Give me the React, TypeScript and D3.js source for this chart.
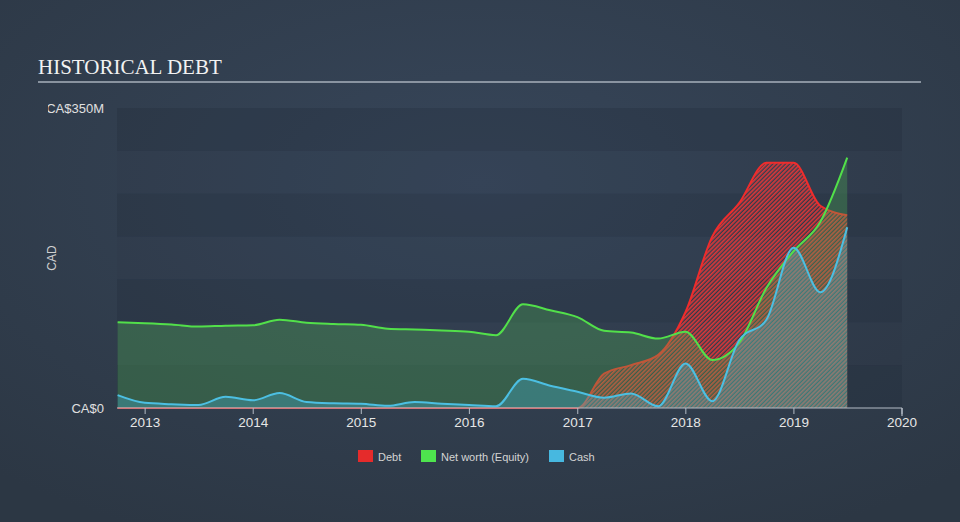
import React from "react";
import * as d3 from "d3";

// quarterly balance sheet dates, values in CA$ millions
const dates = [
  "2012-09-30", "2012-12-31", "2013-03-31", "2013-06-30", "2013-09-30", "2013-12-31",
  "2014-03-31", "2014-06-30", "2014-09-30", "2014-12-31", "2015-03-31", "2015-06-30",
  "2015-09-30", "2015-12-31", "2016-03-31", "2016-06-30", "2016-09-30", "2016-12-31",
  "2017-03-31", "2017-06-30", "2017-09-30", "2017-12-31", "2018-03-31", "2018-06-30",
  "2018-09-30", "2018-12-31", "2019-03-31", "2019-06-30",
];
const debt = [0, 0, 0, 0, 0, 0, 0, 0, 0, 0, 0, 0, 0, 0, 0, 0, 0, 0, 40, 50, 62, 112, 200, 239, 286, 286, 236, 225];
const netWorth = [100, 99, 97.5, 95, 96, 96.5, 103, 99.5, 98, 97, 92.5, 91.5, 90.5, 89, 85, 121, 114, 106, 90, 88, 81, 89, 56, 76, 140, 183, 217, 292];
const cash = [15, 6, 4.5, 3.5, 13, 9, 17.5, 7, 5.5, 5, 2.5, 7, 5, 3.5, 2, 34, 26, 19, 12, 17, 2, 52, 8, 79, 103, 187, 135, 211];

const yTicks = [0, 350];
const yTickLabels = ["CA$0", "CA$350M"];
const bandStep = 50;
const legendItems = [
  { label: "Debt", color: "#e52b2b", x: 358 },
  { label: "Net worth (Equity)", color: "#4ee44e", x: 421 },
  { label: "Cash", color: "#47b8e0", x: 549 },
];

const width = 960;
const height = 522;
const margin = { top: 108, right: 58, bottom: 114, left: 117 };

export default function App() {
  const parse = d3.timeParse("%Y-%m-%d");
  const points = dates.map((d, i) => ({
    date: parse(d) as Date,
    debt: debt[i],
    netWorth: netWorth[i],
    cash: cash[i],
  }));

  const xScale = d3
    .scaleTime()
    .domain([parse("2012-09-28") as Date, parse("2020-01-01") as Date])
    .range([margin.left, width - margin.right]);
  const yScale = d3
    .scaleLinear()
    .domain([0, 350])
    .range([height - margin.bottom, margin.top]);

  const areaFor = (key: string) =>
    d3
      .area<any>()
      .x((d) => xScale(d.date))
      .y0(yScale(0))
      .y1((d) => yScale(d[key]))
      .curve(d3.curveMonotoneX)(points) || "";
  const lineFor = (key: string) =>
    d3
      .line<any>()
      .x((d) => xScale(d.date))
      .y((d) => yScale(d[key]))
      .curve(d3.curveMonotoneX)(points) || "";

  const bands = d3.range(0, 350, bandStep);
  const years = xScale.ticks(d3.timeYear.every(1)).filter((d) => d.getFullYear() >= 2013);
  const [x0, x1] = xScale.range();
  const y0 = yScale(0);

  return (
    <svg
      width={width}
      height={height}
      style={{ position: "absolute", left: 0, top: 0, display: "block" }}
      fontFamily="'Liberation Sans', Arial, sans-serif"
    >
      <defs>
        <radialGradient id="bg" cx="50%" cy="35%" r="75%">
          <stop offset="0%" stopColor="#37465a" />
          <stop offset="100%" stopColor="#2c3744" />
        </radialGradient>
        <pattern
          id="hatch"
          patternUnits="userSpaceOnUse"
          width={3}
          height={3}
          patternTransform="rotate(45)"
        >
          <rect x={0} y={0} width={1.7} height={3} fill="#ec3838" fillOpacity={0.9} />
        </pattern>
        <clipPath id="labelClip">
          <rect x={48} y={0} width={200} height={height} />
        </clipPath>
      </defs>

      <rect width={width} height={height} fill="url(#bg)" />

      {/* title */}
      <text x={38} y={74} fill="#f2f2f2" fontSize={21} fontFamily="'Liberation Serif', 'Times New Roman', serif">
        HISTORICAL DEBT
      </text>
      <line x1={38} x2={921} y1={82} y2={82} stroke="#a7b1bb" strokeWidth={1.5} />

      {/* background bands */}
      {bands.map((b, i) => (
        <rect
          key={b}
          x={x0}
          width={x1 - x0}
          y={yScale(b + bandStep)}
          height={yScale(b) - yScale(b + bandStep)}
          fill="#1a2430"
          fillOpacity={i % 2 === 0 ? 0.22 : 0.06}
        />
      ))}

      {/* series */}
      <path d={areaFor("debt")} fill="url(#hatch)" />
      <path d={lineFor("debt")} fill="none" stroke="#f02c2c" strokeWidth={2} />
      <path d={areaFor("netWorth")} fill="#53bb57" fillOpacity={0.3} />
      <path d={areaFor("cash")} fill="#47b8e0" fillOpacity={0.3} />
      <path d={lineFor("netWorth")} fill="none" stroke="#52e04a" strokeWidth={2} />
      <path d={lineFor("cash")} fill="none" stroke="#4cbfe2" strokeWidth={2} />

      {/* x axis */}
      <line x1={x0} x2={x1} y1={y0} y2={y0} stroke="#b4bcc6" strokeWidth={1.2} />
      <line x1={x1} x2={x1} y1={y0} y2={y0 + 8} stroke="#b4bcc6" strokeWidth={1.2} />
      {years.map((d) => (
        <g key={d.getFullYear()} transform={`translate(${xScale(d)},${y0})`}>
          <line y2={6} stroke="#b4bcc6" strokeWidth={1} />
          <text y={19} textAnchor="middle" fill="#e6e6e6" fontSize={13.5}>
            {d.getFullYear()}
          </text>
        </g>
      ))}

      {/* y axis labels */}
      <g clipPath="url(#labelClip)">
        {yTicks.map((t, i) => (
          <text
            key={t}
            x={104}
            y={yScale(t)}
            dy="0.35em"
            textAnchor="end"
            fill="#e0e0e0"
            fontSize={13}
          >
            {yTickLabels[i]}
          </text>
        ))}
      </g>
      <text
        transform={`translate(52,${(yScale(0) + yScale(350)) / 2}) rotate(-90)`}
        textAnchor="middle"
        dy="0.35em"
        fill="#d0d0d0"
        fontSize={12}
      >
        CAD
      </text>

      {/* legend */}
      {legendItems.map((it) => (
        <g key={it.label} transform={`translate(${it.x},450)`}>
          <rect width={15} height={12} fill={it.color} />
          <text x={20} y={10.5} fill="#d4d4d4" fontSize={11}>
            {it.label}
          </text>
        </g>
      ))}
    </svg>
  );
}
